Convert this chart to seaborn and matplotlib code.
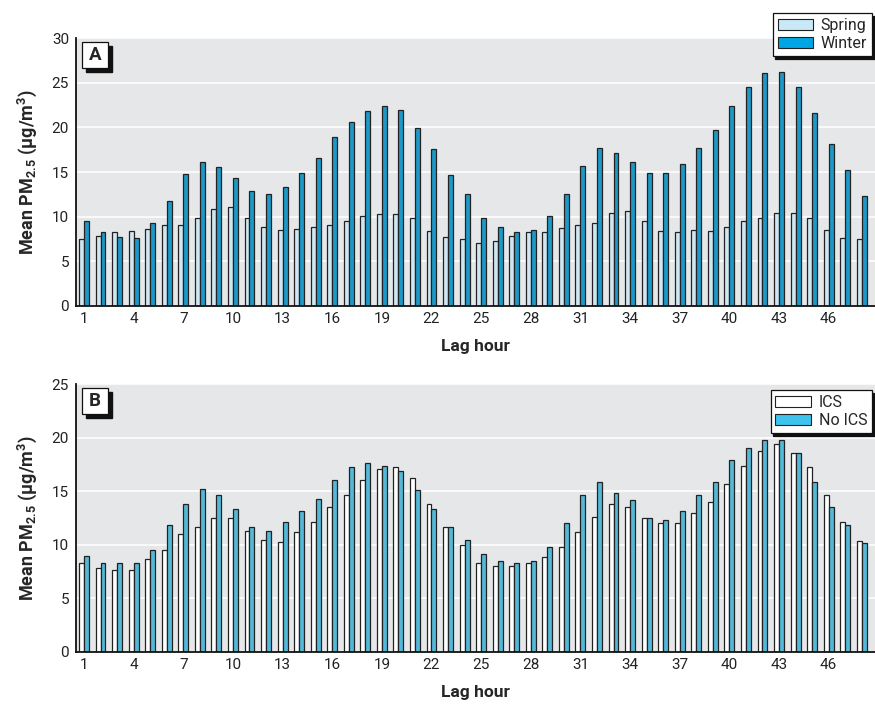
import numpy as np
import pandas as pd
import matplotlib
matplotlib.use("Agg")
import matplotlib.pyplot as plt
from matplotlib.patches import Rectangle, Patch
import seaborn as sns

# Lag hours 1..48
lags = list(range(1, 49))

# Panel A: season
spring = [7.5, 7.87, 8.29, 8.44, 8.66, 9.11, 9.11, 9.86, 10.87, 11.1,
          9.86, 8.89, 8.51, 8.62, 8.89, 9.11, 9.52, 10.09, 10.31, 10.31,
          9.9, 8.45, 7.69, 7.5, 7.05, 7.27, 7.87, 8.29, 8.29, 8.7,
          9.11, 9.3, 10.46, 10.69, 9.49, 8.44, 8.29, 8.51, 8.44, 8.89,
          9.49, 9.86, 10.46, 10.46, 9.86, 8.47, 7.61, 7.5]
winter = [9.49, 8.29, 7.69, 7.61, 9.3, 11.7, 14.74, 16.16, 15.56, 14.36,
          12.9, 12.52, 13.31, 14.92, 16.54, 18.94, 20.55, 21.79, 22.39, 21.97,
          19.95, 17.59, 14.7, 12.52, 9.86, 8.89, 8.29, 8.47, 10.09, 12.52,
          15.71, 17.74, 17.14, 16.09, 14.89, 14.89, 15.94, 17.74, 19.76, 22.39,
          24.56, 26.06, 26.17, 24.56, 21.56, 18.15, 15.26, 12.3]

# Panel B: ICS use
ics = [8.31, 7.81, 7.69, 7.63, 8.66, 9.5, 10.99, 11.67, 12.52, 12.52,
       11.33, 10.49, 10.3, 11.18, 12.17, 13.51, 14.69, 16.03, 17.03, 17.22,
       16.19, 13.85, 11.7, 10.02, 8.34, 8.0, 8.0, 8.34, 8.84, 9.84,
       11.21, 12.55, 13.85, 13.54, 12.52, 12.02, 12.02, 13.01, 14.01, 15.69,
       17.37, 18.74, 19.4, 18.56, 17.22, 14.69, 12.17, 10.34]
no_ics = [9.0, 8.34, 8.34, 8.31, 9.5, 11.83, 13.82, 15.22, 14.66, 13.36,
          11.67, 11.33, 12.17, 13.2, 14.32, 16.03, 17.22, 17.68, 17.4, 16.9,
          15.16, 13.36, 11.7, 10.49, 9.18, 8.5, 8.34, 8.5, 9.84, 11.99,
          14.66, 15.88, 14.88, 14.2, 12.52, 12.33, 13.17, 14.66, 15.88, 17.9,
          19.02, 19.74, 19.74, 18.56, 15.85, 13.54, 11.89, 10.15]

df_a = pd.DataFrame({"lag": lags * 2, "pm": spring + winter,
                     "group": ["Spring"] * 48 + ["Winter"] * 48})
df_b = pd.DataFrame({"lag": lags * 2, "pm": ics + no_ics,
                     "group": ["ICS"] * 48 + ["No ICS"] * 48})

sns.set_style("white")
plt.rcParams["font.family"] = ["Liberation Sans Narrow", "Roboto", "DejaVu Sans"]
plt.rcParams["mathtext.fontset"] = "custom"
plt.rcParams["mathtext.bf"] = "Roboto:bold"
plt.rcParams["mathtext.rm"] = "Roboto"
plt.rcParams["mathtext.default"] = "bf"

fig = plt.figure(figsize=(8.75, 7.05), dpi=100)
ax_a = fig.add_axes([0.0869, 0.566, 0.9131, 0.380])
ax_b = fig.add_axes([0.0869, 0.0752, 0.9131, 0.380])

panels = [
    (ax_a, df_a, {"Spring": "#c9e9f8", "Winter": "#00a6e4"}, 30, "A", 1.093),
    (ax_b, df_b, {"ICS": "#ffffff", "No ICS": "#3ec3ef"}, 25, "B", 0.978),
]

for ax, df, pal, ymax, letter, leg_top in panels:
    sns.barplot(data=df, x="lag", y="pm", hue="group", palette=pal,
                width=0.6, edgecolor="#222222", linewidth=0.9,
                legend=False, ax=ax)
    ax.set_facecolor("#e6e7e8")
    ax.set_axisbelow(True)
    ax.yaxis.grid(True, color="white", linewidth=1.1)
    ax.xaxis.grid(False)
    ax.set_ylim(0, ymax)
    ax.set_yticks(np.arange(0, ymax + 1, 5))
    ax.set_xlim(-0.48, 47.8)
    ax.set_xticks(range(0, 48, 3))
    ax.set_xticklabels([str(l) for l in lags[::3]])
    ax.tick_params(axis="both", length=0, labelsize=11, colors="#222222")
    ax.tick_params(axis="x", pad=4)
    ax.tick_params(axis="y", pad=5)
    for s in ["top", "right"]:
        ax.spines[s].set_visible(False)
    for s in ["left", "bottom"]:
        ax.spines[s].set_color("#111111")
        ax.spines[s].set_linewidth(1.3)
    ax.set_xlabel("Lag hour", fontsize=12.5, fontweight="bold", labelpad=10)
    ax.set_ylabel(r"Mean PM$_{2.5}$ ($\mu$g/m$^{3}$)", fontsize=13,
                  fontweight="bold", labelpad=9)

    # panel letter with drop shadow
    w, h = 26 / 799, 26 / 268
    x0, y0 = 6 / 799, 1 - 30 / 268
    ax.add_patch(Rectangle((x0 + 4 / 799, y0 - 4 / 268), w, h,
                           transform=ax.transAxes, color="#111111",
                           zorder=5, clip_on=False))
    ax.add_patch(Rectangle((x0, y0), w, h, transform=ax.transAxes,
                           facecolor="white", edgecolor="#111111",
                           linewidth=0.9, zorder=6, clip_on=False))
    ax.text(x0 + w / 2, y0 + h / 2, letter, transform=ax.transAxes,
            ha="center", va="center", fontsize=13.5, fontweight="bold",
            zorder=7)

    handles = [Patch(facecolor=c, edgecolor="#222222", linewidth=0.8, label=k)
               for k, c in pal.items()]
    leg = ax.legend(handles=handles, loc="upper right",
                    bbox_to_anchor=(0.996, leg_top), fontsize=11.5,
                    frameon=True, fancybox=False,
                    shadow={"color": "#111111", "alpha": 1},
                    borderpad=0.3, labelspacing=0.2, handlelength=2.2,
                    handletextpad=0.5, borderaxespad=0)
    leg.get_frame().set_edgecolor("#111111")
    leg.get_frame().set_linewidth(0.9)
    leg.set_zorder(10)

fig.savefig("out.png", dpi=100)
